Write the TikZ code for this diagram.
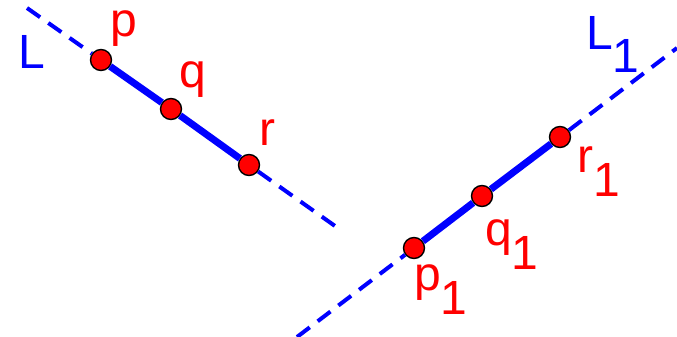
\documentclass[tikz,border=0pt]{standalone}
\usepackage{fontspec}
\setmainfont{Liberation Sans}
\usepackage{tikz}
\definecolor{lineblue}{RGB}{0, 0, 255}
\definecolor{ptred}{RGB}{255, 0, 0}
\newcommand{\subone}{\raisebox{-0.5em}{1}}

\begin{document}
\begin{tikzpicture}[x=1pt, y=-1pt,
    ptdot/.style={circle, fill=ptred, draw=black, line width=1.4pt,
      minimum size=21pt, inner sep=0pt},
    segline/.style={lineblue, line width=7pt},
    extline/.style={lineblue, line width=4pt, dash pattern=on 16pt off 10pt},
    ptlabel/.style={anchor=base west, inner sep=0pt, text=ptred,
      font=\fontsize{48}{56}\selectfont},
    linelabel/.style={ptlabel, text=lineblue}]

  % ── Frame ───────────────────────────────────────────────────────────
  \useasboundingbox (0,0) rectangle (677,337);

  % ── Points ──────────────────────────────────────────────────────────
  \node[ptdot] (p)  at (101,60)  {};
  \node[ptdot] (q)  at (171,109) {};
  \node[ptdot] (r)  at (249,165) {};
  \node[ptdot] (p1) at (414,248) {};
  \node[ptdot] (q1) at (482,196) {};
  \node[ptdot] (r1) at (560,137) {};

  % ── Line ends ───────────────────────────────────────────────────────
  \coordinate (Ltop)  at (27,8);
  \coordinate (Lbot)  at (335,226);
  \coordinate (L1bot) at (297,337);
  \coordinate (L1top) at (677,48);

  % ── Line L ──────────────────────────────────────────────────────────
  \draw[extline] (Ltop) -- (p);
  \draw[segline] (p) -- (q) -- (r);
  \draw[extline] (r) -- (Lbot);

  % ── Line L1 ─────────────────────────────────────────────────────────
  \draw[extline] (L1bot) -- (p1);
  \draw[segline] (p1) -- (q1) -- (r1);
  \draw[extline] (r1) -- (L1top);

  % ── Labels ──────────────────────────────────────────────────────────
  \node[linelabel] (lL)  at (18,68)   {L};
  \node[ptlabel]   (lp)  at (110,37)  {p};
  \node[ptlabel]   (lq)  at (179,87)  {q};
  \node[ptlabel]   (lr)  at (259,145) {r};
  \node[linelabel] (lL1) at (586,49)  {L\subone};
  \node[ptlabel]   (lr1) at (577,172) {r\subone};
  \node[ptlabel]   (lq1) at (485,245) {q\subone};
  \node[ptlabel]   (lp1) at (414,290) {p\subone};

\end{tikzpicture}
\end{document}
